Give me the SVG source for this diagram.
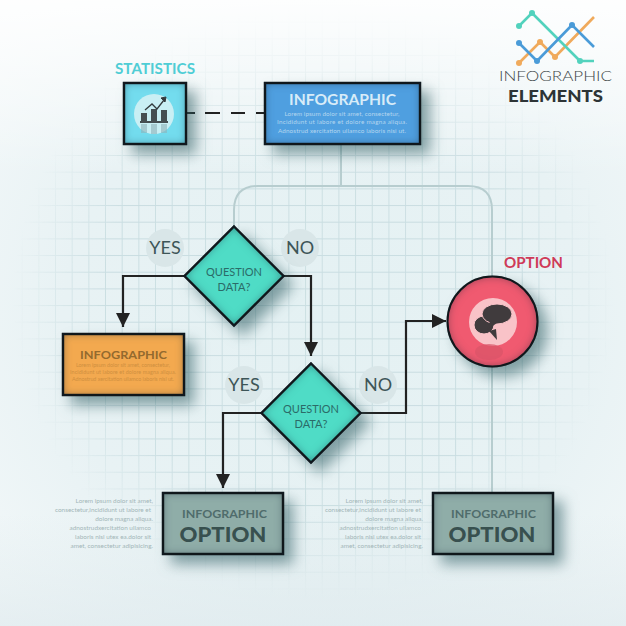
<svg xmlns="http://www.w3.org/2000/svg" width="626" height="626" viewBox="0 0 626 626">
<style>
text{font-family:"Lato","Open Sans","Liberation Sans",sans-serif}
.b{font-weight:700}
.r{text-anchor:end}
.m{text-anchor:middle}
.sm{font-size:6.4px;fill:#a3b6b8}
.ans{font-size:18px;fill:#3d5557;text-anchor:middle}
.q{font-size:11px;fill:#2b6b68;text-anchor:middle}
.edge{fill:none;stroke:#222;stroke-width:2.2}
.lite{fill:none;stroke:#b7cdcf;stroke-width:2}
.box{stroke:#101415;stroke-width:2.4}
.dot{fill:#d9e6e8}
.io{font-size:12px;font-weight:700;text-anchor:middle}
.opt{font-size:21px;font-weight:900;fill:#38504f;text-anchor:middle}
</style>
<defs>
<radialGradient id="bg" cx="52%" cy="52%" r="70%">
<stop offset="0" stop-color="#e4f1f3"/><stop offset=".6" stop-color="#e8f2f4"/><stop offset="1" stop-color="#f3f8f9"/>
</radialGradient>
<linearGradient id="top" x1="0" y1="0" x2="0" y2="1">
<stop offset="0" stop-color="#fff" stop-opacity=".9"/><stop offset=".28" stop-color="#fff" stop-opacity="0"/><stop offset=".82" stop-color="#dbe8eb" stop-opacity="0"/><stop offset="1" stop-color="#dce8ec" stop-opacity=".6"/>
</linearGradient>
<pattern id="grid" width="16.67" height="16.67" x="5" y="5" patternUnits="userSpaceOnUse">
<path d="M0 0H16.67M0 0V16.67" fill="none" stroke="#c9dde1" stroke-width="1.800"/>
</pattern>
<radialGradient id="fade" cx="50%" cy="48%" r="48%">
<stop offset="0" stop-color="#fff"/><stop offset=".7" stop-color="#fff"/><stop offset="1" stop-color="#000"/>
</radialGradient>
<mask id="gm"><rect width="626" height="626" fill="url(#fade)"/></mask>
<filter id="card" x="-40%" y="-40%" width="190%" height="200%" color-interpolation-filters="sRGB">
<feGaussianBlur in="SourceAlpha" stdDeviation="7" result="b"/>
<feOffset in="b" dx="9" dy="9" result="o"/>
<feFlood flood-color="#2c5a60" flood-opacity=".55"/>
<feComposite in2="o" operator="in" result="ds"/>
<feComponentTransfer in="SourceAlpha" result="inv"><feFuncA type="table" tableValues="1 0"/></feComponentTransfer>
<feGaussianBlur in="inv" stdDeviation="5" result="ib"/>
<feFlood flood-color="#123" flood-opacity=".55"/>
<feComposite in2="ib" operator="in"/>
<feComposite in2="SourceAlpha" operator="in" result="is"/>
<feMerge><feMergeNode in="ds"/><feMergeNode in="SourceGraphic"/><feMergeNode in="is"/></feMerge>
</filter>
<marker id="ah" markerUnits="userSpaceOnUse" markerWidth="15" markerHeight="14" refX="14" refY="7" orient="auto">
<path d="M0 0L14 7L0 14Z" fill="#222"/>
</marker>
</defs>
<rect width="626" height="626" fill="url(#bg)"/>
<rect width="626" height="626" fill="url(#grid)" mask="url(#gm)"/>
<rect width="626" height="626" fill="url(#top)"/>

<g id="connectors">
<path class="lite" d="M341 145V186M234 226V210Q234 186 258 186H468Q492 186 492 210V492"/>
<path class="edge" d="M187 113H264" stroke-dasharray="8 10 15 11 14 11 8"/>
<path class="edge" d="M184 276H123V327" marker-end="url(#ah)"/>
<path class="edge" d="M283 276H311V356" marker-end="url(#ah)"/>
<path class="edge" d="M262 413H223V488" marker-end="url(#ah)"/>
<path class="edge" d="M361 413H406V321H446" marker-end="url(#ah)"/>
</g>

<g id="logo">
<g fill="none" stroke-width="2.600" stroke-linejoin="round">
<path stroke="#f0aa5c" d="M519 63L540 42L555 57L594 17"/>
<path stroke="#52d2bd" d="M519 26L532 13L580 61H594"/>
<path stroke="#4a9bd8" d="M519 43L537 61L572 25L594 47"/>
</g>
<g fill="#52d2bd"><circle cx="519" cy="26" r="3"/><circle cx="532" cy="13" r="3"/><circle cx="580" cy="61" r="3"/></g>
<g fill="#f0aa5c"><circle cx="519" cy="63" r="3"/><circle cx="540" cy="42" r="3"/><circle cx="555" cy="57" r="3"/></g>
<g fill="#4a9bd8"><circle cx="519" cy="43" r="3"/><circle cx="537" cy="61" r="3"/><circle cx="572" cy="25" r="3"/></g>
<text x="555.500" y="81" class="m" font-size="14" font-weight="300" fill="#3b4446" textLength="113" lengthAdjust="spacingAndGlyphs">INFOGRAPHIC</text>
<text x="555.500" y="102" class="m" font-size="17" font-weight="900" fill="#2d3436" textLength="95" lengthAdjust="spacingAndGlyphs">ELEMENTS</text>
</g>

<g id="statistics">
<text x="155" y="74" class="m b" font-size="14.500" fill="#4fcdd5" textLength="80" lengthAdjust="spacingAndGlyphs">STATISTICS</text>
<rect class="box" x="124" y="83" width="62" height="61" fill="#73dcee" filter="url(#card)"/>
<circle cx="154" cy="114" r="20" fill="#c9eff4"/>
<g fill="#8eb3b9" opacity=".6"><rect x="141" y="124" width="6" height="9"/><rect x="151" y="124" width="6" height="10"/><rect x="161" y="124" width="6" height="9"/></g>
<g fill="#454f52">
<rect x="141" y="113" width="6" height="8"/><rect x="151" y="109" width="6" height="12"/><rect x="161" y="110" width="6" height="11"/>
<rect x="140" y="121" width="28" height="2"/>
</g>
<path d="M145 110L152 104L157 109L164 100" fill="none" stroke="#333b3e" stroke-width="1.300"/>
<path d="M161 98L166 97L165 102Z" fill="#333b3e" stroke="#333b3e"/>
</g>

<g id="infographic-main">
<rect class="box" x="265" y="83" width="155" height="61" fill="#4f9fe0" filter="url(#card)"/>
<text x="342.500" y="105" class="m b" font-size="15" fill="#d8ecf8" textLength="107" lengthAdjust="spacingAndGlyphs">INFOGRAPHIC</text>
<g class="m" font-size="6.300" fill="#b4d6ef">
<text x="342" y="115.500" textLength="115">Lorem ipsum dolor sit amet, consectetur,</text>
<text x="342" y="124" textLength="130">Incididunt ut labore et dolore magna aliqua.</text>
<text x="342" y="133" textLength="128">Adnostrud xercitation ullamco laboris nisi ut.</text>
</g>
</g>

<g id="decision-1">
<circle class="dot" cx="165" cy="248" r="19"/><circle class="dot" cx="300" cy="248" r="19"/>
<text class="ans" x="165" y="254">YES</text><text class="ans" x="300" y="254">NO</text>
<path class="box" d="M234 226.500L283.500 276L234 325.500L184.500 276Z" fill="#4fdcc6" filter="url(#card)"/>
<text class="q" x="234" y="276">QUESTION</text><text class="q" x="234" y="291">DATA?</text>
</g>

<g id="decision-2">
<circle class="dot" cx="244" cy="385" r="19"/><circle class="dot" cx="378" cy="385" r="19"/>
<text class="ans" x="244" y="391">YES</text><text class="ans" x="378" y="391">NO</text>
<path class="box" d="M311 363.500L360.500 413L311 462.500L261.500 413Z" fill="#4fdcc6" filter="url(#card)"/>
<text class="q" x="311" y="413">QUESTION</text><text class="q" x="311" y="428">DATA?</text>
</g>

<g id="infographic-orange">
<rect class="box" x="63" y="334" width="121" height="61" fill="#f3a94f" filter="url(#card)"/>
<text class="io" x="123.500" y="359" fill="#946a2e" textLength="87" lengthAdjust="spacingAndGlyphs">INFOGRAPHIC</text>
<g class="m" font-size="5.400" fill="#cf8f3f">
<text x="123" y="367" textLength="94">Lorem ipsum dolor sit amet, consectetur,</text>
<text x="123" y="374" textLength="106">Incididunt ut labore et dolore magna aliqua.</text>
<text x="123" y="381" textLength="102">Adnostrud xercitation ullamco laboris nisi ut.</text>
</g>
</g>

<g id="option-circle">
<text x="533.500" y="268" class="m b" font-size="14.500" fill="#cf3a58" textLength="59" lengthAdjust="spacingAndGlyphs">OPTION</text>
<circle cx="492.500" cy="321.500" r="45" fill="#f05a70" stroke="#101415" stroke-width="2" filter="url(#card)"/>
<circle cx="493" cy="322" r="24" fill="#f9c3c8"/>
<ellipse cx="489" cy="352" rx="14" ry="8" fill="#d95468" opacity=".7"/>
<ellipse cx="484" cy="325" rx="10" ry="9" fill="#403b3d" stroke="#f9c3c8" stroke-width="1"/>
<path d="M489 331L497 340L496 329Z" fill="#403b3d"/>
<ellipse cx="497" cy="314" rx="15" ry="10" fill="#403b3d" stroke="#f9c3c8" stroke-width="1"/>
<path d="M490 321L487 330L497 323Z" fill="#403b3d"/>
</g>

<g id="option-1">
<g class="sm">
<text class="r" x="153" y="503">Lorem ipsum dolor sit amet,</text>
<text class="r" x="151" y="512">consectetur,incididunt ut labore et</text>
<text class="r" x="153" y="521">dolore magna aliqua.</text>
<text class="r" x="151" y="530">adnostrudxercitation ullamco</text>
<text class="r" x="151" y="539">laboris nisi utex ea.dolor sit</text>
<text class="r" x="153" y="548">amet, consectetur adipisicing.</text>
</g>
<rect class="box" x="163" y="493" width="120" height="61" fill="#8fada8" filter="url(#card)"/>
<text class="io" x="224.500" y="518" fill="#4f6c6c" textLength="85" lengthAdjust="spacingAndGlyphs">INFOGRAPHIC</text>
<text class="opt" x="223" y="541.500" textLength="87" lengthAdjust="spacingAndGlyphs">OPTION</text>
</g>

<g id="option-2">
<g class="sm">
<text class="r" x="423" y="503">Lorem ipsum dolor sit amet,</text>
<text class="r" x="421" y="512">consectetur,incididunt ut labore et</text>
<text class="r" x="423" y="521">dolore magna aliqua.</text>
<text class="r" x="421" y="530">adnostrudxercitation ullamco</text>
<text class="r" x="421" y="539">laboris nisi utex ea.dolor sit</text>
<text class="r" x="423" y="548">amet, consectetur adipisicing.</text>
</g>
<rect class="box" x="433" y="493" width="120" height="61" fill="#8fada8" filter="url(#card)"/>
<text class="io" x="493.500" y="518" fill="#4f6c6c" textLength="85" lengthAdjust="spacingAndGlyphs">INFOGRAPHIC</text>
<text class="opt" x="492" y="541.500" textLength="87" lengthAdjust="spacingAndGlyphs">OPTION</text>
</g>
</svg>
